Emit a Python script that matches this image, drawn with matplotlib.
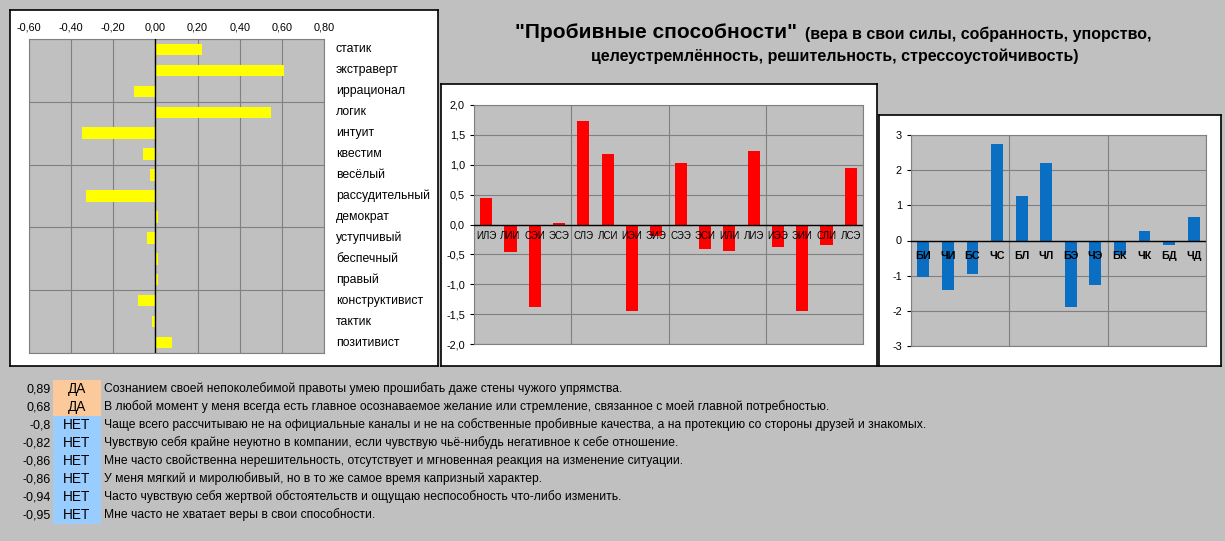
import matplotlib.pyplot as plt

plt.rcParams['font.family'] = ['Liberation Sans', 'DejaVu Sans']

# левая диаграмма - признаки Рейнина
traits = ["статик", "экстраверт", "иррационал", "логик", "интуит", "квестим",
          "весёлый", "рассудительный", "демократ", "уступчивый", "беспечный",
          "правый", "конструктивист", "тактик", "позитивист"]
trait_values = [0.22, 0.61, -0.10, 0.55, -0.35, -0.06, -0.025, -0.33, 0.01,
                -0.04, 0.011, 0.011, -0.085, -0.016, 0.08]
trait_ticks = [-0.6, -0.4, -0.2, 0.0, 0.2, 0.4, 0.6, 0.8]

# средняя - типы
types = ["ИЛЭ", "ЛИИ", "СЭИ", "ЭСЭ", "СЛЭ", "ЛСИ", "ИЭИ", "ЭИЭ",
         "СЭЭ", "ЭСИ", "ИЛИ", "ЛИЭ", "ИЭЭ", "ЭИИ", "СЛИ", "ЛСЭ"]
type_values = [0.44, -0.46, -1.38, 0.03, 1.73, 1.18, -1.45, -0.19,
               1.03, -0.41, -0.44, 1.23, -0.38, -1.45, -0.35, 0.95]
type_ticks = [-2.0, -1.5, -1.0, -0.5, 0.0, 0.5, 1.0, 1.5, 2.0]

# правая - аспекты
aspects = ["БИ", "ЧИ", "БС", "ЧС", "БЛ", "ЧЛ", "БЭ", "ЧЭ", "БК", "ЧК", "БД", "ЧД"]
aspect_values = [-1.03, -1.41, -0.96, 2.75, 1.26, 2.21, -1.89, -1.26,
                 -0.42, 0.27, -0.13, 0.67]
aspect_ticks = [-3, -2, -1, 0, 1, 2, 3]

# вопросы внизу
answer_scores = [0.89, 0.68, -0.8, -0.82, -0.86, -0.86, -0.94, -0.95]
answers = ["ДА", "ДА", "НЕТ", "НЕТ", "НЕТ", "НЕТ", "НЕТ", "НЕТ"]
questions = [
    "Сознанием своей непоколебимой правоты умею прошибать даже стены чужого упрямства.",
    "В любой момент у меня всегда есть главное осознаваемое желание или стремление, связанное с моей главной потребностью.",
    "Чаще всего рассчитываю не на официальные каналы и не на собственные пробивные качества, а на протекцию со стороны друзей и знакомых.",
    "Чувствую себя крайне неуютно в компании, если чувствую чьё-нибудь негативное к себе отношение.",
    "Мне часто свойственна нерешительность, отсутствует и мгновенная реакция на изменение ситуации.",
    "У меня мягкий и миролюбивый, но в то же самое время капризный характер.",
    "Часто чувствую себя жертвой обстоятельств и ощущаю неспособность что-либо изменить.",
    "Мне часто не хватает веры в свои способности.",
]

W, H = 1225, 541
BG = "#c0c0c0"
GRID = "#808080"


def rect(x0, y0, x1, y1):
    return [x0 / W, 1 - y1 / H, (x1 - x0) / W, (y1 - y0) / H]


def white_box(fig, x0, y0, x1, y1):
    box = fig.add_axes(rect(x0, y0, x1, y1))
    box.set_facecolor("white")
    box.set_xticks([])
    box.set_yticks([])
    for s in box.spines.values():
        s.set_color("black")
        s.set_linewidth(1.2)
    return box


def comma(v, nd):
    return f"{v:.{nd}f}".replace(".", ",")


fig = plt.figure(figsize=(W / 100, H / 100), dpi=100)
fig.patch.set_facecolor(BG)

# ---- left chart
white_box(fig, 10, 10, 438, 366)
ax1 = fig.add_axes(rect(29, 39, 324, 353))
ax1.set_facecolor(BG)
n = len(traits)
ax1.barh(range(n), trait_values, height=0.55, color="#ffff00", zorder=2)
ax1.set_xlim(-0.6, 0.8)
ax1.set_ylim(n - 0.5, -0.5)
ax1.set_xticks(trait_ticks)
ax1.set_xticklabels([comma(t, 2) for t in trait_ticks], fontsize=7.8)
ax1.xaxis.tick_top()
ax1.tick_params(axis="x", length=0, pad=5)
ax1.set_yticks([])
ax1.set_yticks([b - 0.5 for b in range(0, n + 1, 3)], minor=True)
ax1.tick_params(axis="y", which="minor", length=0)
ax1.grid(True, axis="x", color=GRID, lw=0.8)
ax1.grid(True, axis="y", which="minor", color=GRID, lw=0.8)
ax1.set_axisbelow(True)
ax1.axvline(0, color="black", lw=1, zorder=3)
for s in ax1.spines.values():
    s.set_color(GRID)
    s.set_linewidth(0.8)
for i, name in enumerate(traits):
    ax1.text(1.04, i, name, transform=ax1.get_yaxis_transform(),
             ha="left", va="center", fontsize=8.8)

# ---- middle chart
white_box(fig, 441, 84, 877, 366)
ax2 = fig.add_axes(rect(474, 105, 863, 344))
ax2.set_facecolor(BG)
m = len(types)
ax2.bar(range(m), type_values, width=0.5, color="#ff0000", zorder=2)
ax2.set_xlim(-0.5, m - 0.5)
ax2.set_ylim(-2, 2)
ax2.set_yticks(type_ticks)
ax2.set_yticklabels([comma(t, 1) for t in type_ticks], fontsize=7.8)
ax2.tick_params(axis="y", length=3, width=0.8)
ax2.set_xticks([])
ax2.set_xticks([b - 0.5 for b in range(0, m + 1, 4)], minor=True)
ax2.tick_params(axis="x", which="minor", length=0)
ax2.grid(True, axis="y", color=GRID, lw=0.8)
ax2.grid(True, axis="x", which="minor", color=GRID, lw=0.8)
ax2.set_axisbelow(True)
ax2.axhline(0, color="black", lw=1, zorder=3)
for s in ax2.spines.values():
    s.set_color(GRID)
    s.set_linewidth(0.8)
for i, name in enumerate(types):
    ax2.annotate(name, (i, 0), xytext=(0, -8.6), textcoords="offset points",
                 ha="center", va="center", fontsize=7, zorder=5,
                 annotation_clip=False)

# ---- right chart
white_box(fig, 879, 115, 1221, 366)
ax3 = fig.add_axes(rect(911, 135, 1206, 346))
ax3.set_facecolor(BG)
k = len(aspects)
ax3.bar(range(k), aspect_values, width=0.48, color="#0a6fc2", zorder=2)
ax3.set_xlim(-0.5, k - 0.5)
ax3.set_ylim(-3, 3)
ax3.set_yticks(aspect_ticks)
ax3.set_yticklabels([str(t) for t in aspect_ticks], fontsize=7.8)
ax3.tick_params(axis="y", length=3, width=0.8)
ax3.set_xticks([])
ax3.set_xticks([b - 0.5 for b in range(0, k + 1, 4)], minor=True)
ax3.tick_params(axis="x", which="minor", length=0)
ax3.grid(True, axis="y", color=GRID, lw=0.8)
ax3.grid(True, axis="x", which="minor", color=GRID, lw=0.8)
ax3.set_axisbelow(True)
ax3.axhline(0, color="black", lw=1, zorder=3)
for s in ax3.spines.values():
    s.set_color(GRID)
    s.set_linewidth(0.8)
for i, name in enumerate(aspects):
    ax3.annotate(name, (i, 0), xytext=(0, -11), textcoords="offset points",
                 ha="center", va="center", fontsize=7.8, fontweight="bold",
                 zorder=5, annotation_clip=False)

# ---- title
fig.text(515 / W, 1 - 33 / H, '"Пробивные способности"', fontsize=15,
         fontweight="bold", ha="left", va="center")
fig.text(805 / W, 1 - 34 / H, "(вера в свои силы, собранность, упорство,",
         fontsize=11.5, fontweight="bold", ha="left", va="center")
fig.text(835 / W, 1 - 56 / H,
         "целеустремлённость, решительность, стрессоустойчивость)",
         fontsize=11.5, fontweight="bold", ha="center", va="center")

# ---- questions table
ax4 = fig.add_axes(rect(0, 380, W, 524))
ax4.set_xlim(0, W)
nq = len(questions)
ax4.set_ylim(nq - 0.5, -0.5)
ax4.axis("off")
cell_colors = ["#fcc99a" if a == "ДА" else "#99ccff" for a in answers]
ax4.barh(range(nq), 48, left=53, height=1.0, color=cell_colors)
for i in range(nq):
    ax4.text(51, i, comma(answer_scores[i], 2 if abs(answer_scores[i] * 10) % 1 else 1),
             ha="right", va="center", fontsize=9)
    ax4.text(77, i, answers[i], ha="center", va="center", fontsize=9.8)
    ax4.text(104, i, questions[i], ha="left", va="center", fontsize=8.7)

fig.savefig("out.png", dpi=100, facecolor=BG)
